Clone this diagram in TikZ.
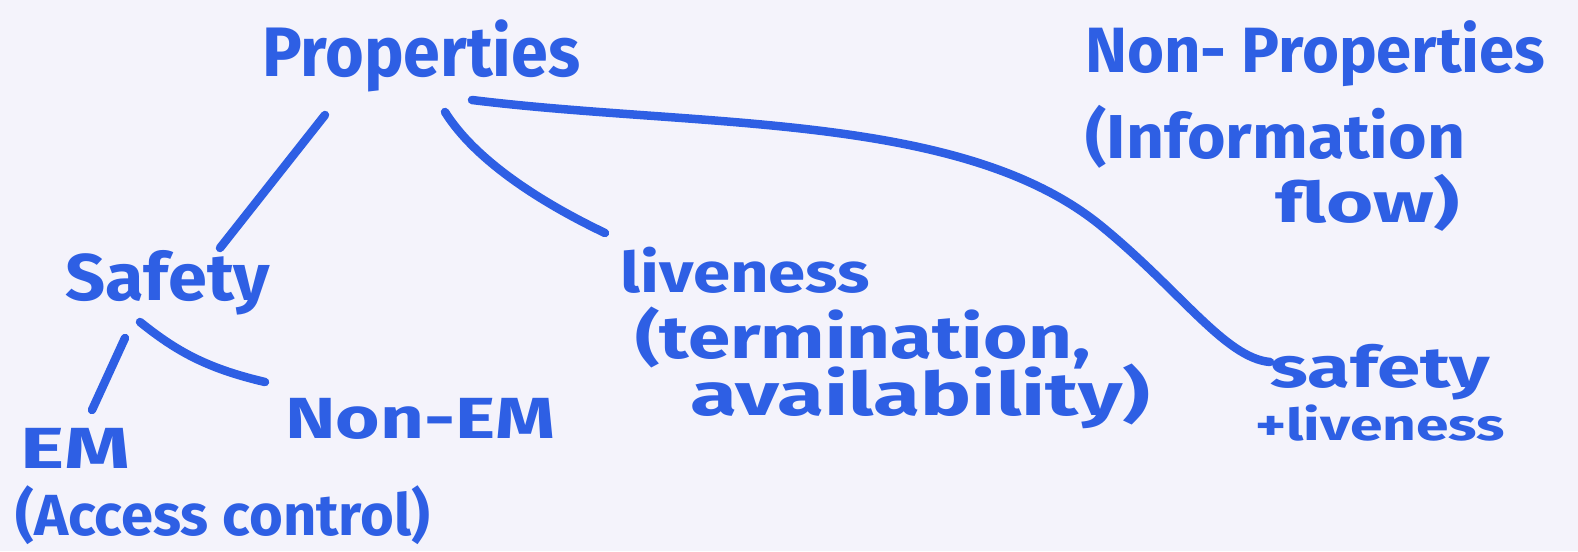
\documentclass[tikz,border=0pt]{standalone}
\usepackage{fontspec}
\setmainfont{Fira Sans}
\usepackage{graphicx}
\definecolor{ink}{HTML}{2E5FE4}
\definecolor{paper}{HTML}{F4F3FB}
% width, font size, text
\newcommand{\hw}[3]{\resizebox{#1pt}{\height}{\fontsize{#2}{#2}\selectfont\bfseries #3}}
\begin{document}
\begin{tikzpicture}[x=1pt,y=-1pt,
  lbl/.style={anchor=base west,inner sep=0pt,text=ink},
  link/.style={draw=ink,line width=8.5pt,line cap=round}]
\fill[paper] (0,0) rectangle (1578,551);
\useasboundingbox (0,0) rectangle (1578,551);
% nodes
\node[lbl] (prop) at (262,76) {\hw{318}{70}{Properties}};
\node[lbl] (np1) at (1085,72) {\hw{460}{64}{Non- Properties}};
\node[lbl] (np2) at (1085,158) {\hw{380}{62}{(Information}};
\node[lbl] (np3) at (1275,222) {\hw{185}{56}{flow)}};
\node[lbl] (safe) at (65,300) {\hw{205}{66}{Safety}};
\node[lbl] (live1) at (620,292) {\hw{250}{56}{liveness}};
\node[lbl] (live2) at (635,358) {\hw{455}{60}{(termination,}};
\node[lbl] (live3) at (690,415) {\hw{460}{60}{availability)}};
\node[lbl] (sl1) at (1270,387) {\hw{220}{57}{safety}};
\node[lbl] (sl2) at (1255,440) {\hw{250}{44}{+liveness}};
\node[lbl] (em1) at (20,468) {\hw{110}{58}{EM}};
\node[lbl] (em2) at (15,535) {\hw{415}{58}{(Access control)}};
\node[lbl] (nonem) at (285,438) {\hw{270}{58}{Non-EM}};
% connector ends
\coordinate (pA) at (325,115);
\coordinate (sA) at (220,248);
\coordinate (pB) at (445,112);
\coordinate (lB) at (605,233);
\coordinate (pC) at (472,100);
\coordinate (mC) at (1100,225);
\coordinate (slC) at (1270,362);
\coordinate (sD) at (125,338);
\coordinate (eD) at (92,410);
\coordinate (sE) at (140,322);
\coordinate (nE) at (265,382);
% connectors
\draw[link] (pA) -- (sA);
\draw[link] (pB) .. controls (475,160) and (540,202) .. (lB);
\draw[link] (pC) .. controls (700,128) and (960,112) .. (mC) .. controls (1180,290) and (1225,358) .. (slC);
\draw[link] (sD) -- (eD);
\draw[link] (sE) .. controls (175,350) and (205,368) .. (nE);
\end{tikzpicture}
\end{document}
